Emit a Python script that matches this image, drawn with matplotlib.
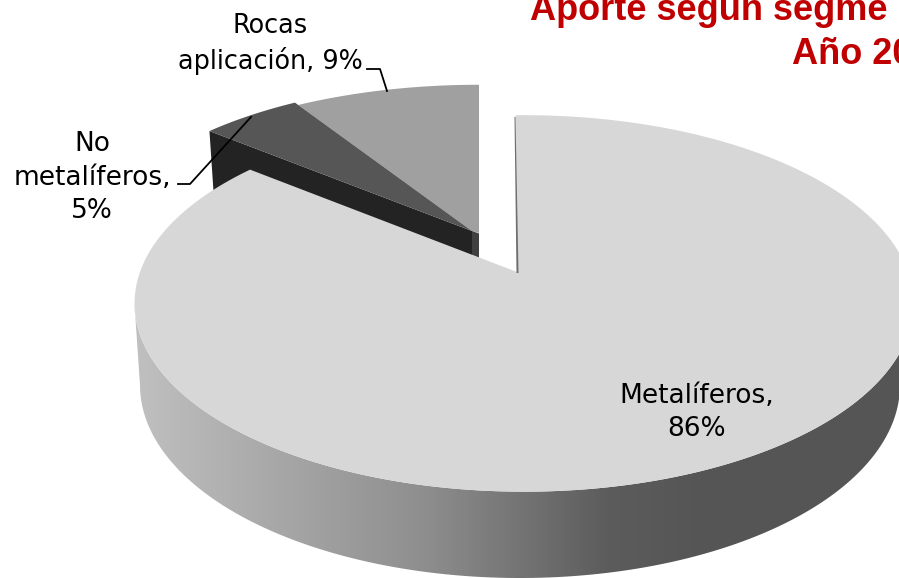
import numpy as np
import matplotlib
matplotlib.use("Agg")
import matplotlib.pyplot as plt
from matplotlib.colors import LinearSegmentedColormap
from matplotlib.patches import Polygon

categories = ["Metalíferos", "No metalíferos", "Rocas aplicación"]
values = [86, 5, 9]
labels = ["Metalíferos,\n86%", "No\nmetalíferos,\n5%", "Rocas\naplicación, 9%"]
title_lines = ["Aporte según segme", "Año 20"]

K = 0.167                         # perspective of the pie plane
fig = plt.figure(figsize=(8.99, 5.78), dpi=100)
ax = fig.add_axes([0, 0, 1, 1])
ax.set_xlim(0, 899)
ax.set_ylim(578, 0)
ax.axis("off")

# angles (degrees, clockwise from 12 o'clock, like a pie chart)
total = sum(values)
spans = [v / total * 360 for v in values]
a_main = (91.5, 90 - spans[0] + 1.5)
a_no = (90 - spans[0], 90 - spans[0] - spans[1])
a_rock = (a_no[1], a_no[1] - spans[2])


def project(deg, cx, cy, rx, ry):
    t = np.radians(deg)
    s = 1 / (1 + K * np.sin(t))
    return cx + rx * np.cos(t) * s, cy - ry * np.sin(t) * s


def arc(a, geom):
    x, y = project(np.linspace(a[0], a[1], 300), *geom)
    return np.column_stack([x, y])


MAIN = (524, 272, 384, 183)
MAIN_TIP = (517, 272)
NOM = (472, 231, 377, 173.5)
ROCK = (479, 233, 385, 173)

# rocas wedge, running under the edge of its neighbour
nx, ny = project(a_no[1], *NOM)
rock_pts = np.vstack([[ROCK[:2]], arc(a_rock, ROCK)[::-1], [(nx, ny)], [NOM[:2]]])
ax.add_patch(Polygon(rock_pts, closed=True, fc="#a0a0a0", ec="none", zorder=2))

# wall of the rock wedge, beside the gap
ax.add_patch(Polygon([(472, 231), (479, 233.5), (479, 258), (472, 255)], closed=True,
                     fc="#404040", ec="none", zorder=2))

# dark radial wall of the "no metalíferos" wedge
xn, yn = project(a_no[0], *NOM)
ax.add_patch(Polygon([(xn, yn), (472, 231), (472, 256), (xn + 4, yn + 60)], closed=True,
                     fc="#232323", ec="none", zorder=3))
ax.add_patch(Polygon(np.vstack([[NOM[:2]], arc(a_no, NOM)]), closed=True, fc="#565656",
                     ec="none", zorder=3))

# side of the large wedge: gradient clipped to the outer-wall outline
cmap = LinearSegmentedColormap.from_list(
    "side", [(0, "#c0c0c0"), (0.38, "#8e8e8e"), (0.62, "#5c5c5c"), (0.75, "#555555"), (1, "#555555")])
upper = arc((-170, -10), MAIN)
bt = np.radians(np.linspace(0, -180, 300))
lower = np.column_stack([520 + 380 * np.cos(bt), 385 - 193 * np.sin(bt)])
side = np.vstack([upper, lower])
im = ax.imshow(np.linspace(0, 1, 512)[None, :], extent=(134, 899, 578, 280), aspect="auto",
               cmap=cmap, vmin=0, vmax=1, zorder=4)
clip = Polygon(side, closed=True, transform=ax.transData, fc="none", ec="none")
ax.add_patch(clip)
im.set_clip_path(clip)
ax.set_xlim(0, 899)
ax.set_ylim(578, 0)

# top of the large wedge
ax.add_patch(Polygon(np.vstack([[MAIN_TIP], arc(a_main, MAIN)]), closed=True, fc="#d7d7d7",
                     ec="none", zorder=5))
# thin visible wall at the start of the large wedge
ax.add_patch(Polygon([(514.5, 117), (516.5, 273), (518.5, 273), (515.5, 117)], closed=True,
                     fc="#6e6e6e", ec="none", zorder=6))

# leader lines
ax.plot([367, 380, 387], [69, 69, 91], color="black", lw=1.3, zorder=7)
ax.plot([178, 190, 251], [184, 184, 117], color="black", lw=1.3, zorder=7)

# data labels
lab = dict(family="DejaVu Sans", ha="center", va="baseline", multialignment="center",
           color="black", linespacing=1.37, zorder=8)
ax.text(697, 436, labels[0], fontsize=19, **lab)
ax.text(92, 218, labels[1], fontsize=19, **lab)
ax.text(270, 69, labels[2], fontsize=18.4, **lab)

# title, cut by the picture edge as in the reference
ttl = dict(family="Liberation Sans", fontweight="bold", fontsize=26, color="#c00000", ha="left",
           va="baseline", zorder=8)
ax.text(530.5, 20, title_lines[0], **ttl)
ax.text(791.5, 64, title_lines[1], **ttl)

fig.savefig("out.png", dpi=100)
